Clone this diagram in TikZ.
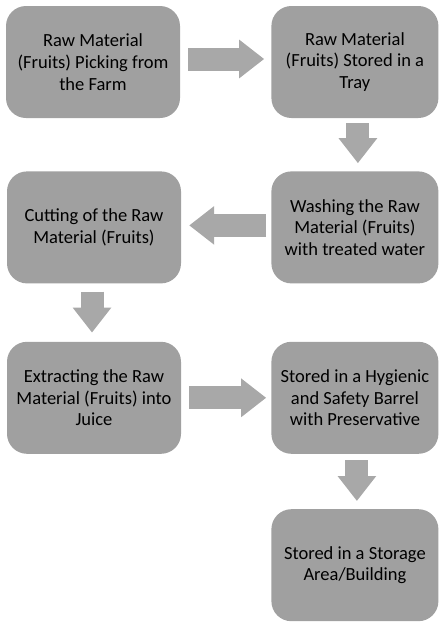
\documentclass[tikz,border=0pt]{standalone}
\usepackage{fontspec}
\setmainfont{Carlito}
\usepackage{tikz}
\usetikzlibrary{arrows.meta, positioning}
\definecolor{boxgrey}{RGB}{160,160,160}
\definecolor{arrowgrey}{RGB}{168,168,168}

\begin{document}
\begin{tikzpicture}[node distance=55pt,
  every node/.style={font=\fontsize{18.5}{21.7}\selectfont, align=center, text=black}]
  \tikzstyle{stage}=[rectangle, rounded corners=20pt, fill=boxgrey, inner sep=0pt,
                     minimum width=167pt, minimum height=112pt]
  \tikzstyle{stagewide}=[stage, minimum width=174pt]
  \tikzstyle{flow}=[draw=arrowgrey, line width=23pt,
                    -{Triangle[length=25pt, width=37pt]}]

  \useasboundingbox (0,0) rectangle (439pt,-624pt);

  \node[stagewide]  (picking)                           at (93pt,-62pt)
        {Raw Material\\(Fruits) Picking from\\the Farm};
  \node[stage]      (tray)     [right=91pt of picking]  {Raw Material\\(Fruits) Stored in a\\Tray};
  \node[stage]      (washing)  [below=53pt of tray]     {Washing the Raw\\Material (Fruits)\\with treated water};
  \node[stagewide]  (cutting)  [left=90pt of washing]   {Cutting of the Raw\\Material (Fruits)};
  \node[stagewide]  (juice)    [below=58pt of cutting]  {Extracting the Raw\\Material (Fruits) into\\Juice};
  \node[stage]      (barrel)   [right=90pt of juice]    {Stored in a Hygienic\\and Safety Barrel\\with Preservative};
  \node[stage]      (storage)  [below=55pt of barrel]   {Stored in a Storage\\Area/Building};

  \draw[flow, shorten <=8pt, shorten >=7pt] ([yshift=3pt]picking.east) -- ([yshift=3pt]tray.west);
  \draw[flow, shorten <=5pt, shorten >=8pt] ([xshift=3pt]tray.south) -- ([xshift=3pt]washing.north);
  \draw[flow, shorten <=5pt, shorten >=8pt] ([yshift=2pt]washing.west) -- ([yshift=2pt]cutting.east);
  \draw[flow, shorten <=8pt, shorten >=9pt] ([xshift=-2pt]cutting.south) -- ([xshift=-2pt]juice.north);
  \draw[flow, shorten <=8pt, shorten >=5pt] (juice.east) -- (barrel.west);
  \draw[flow, shorten <=6pt, shorten >=8pt] ([xshift=2pt]barrel.south) -- ([xshift=2pt]storage.north);
\end{tikzpicture}
\end{document}
